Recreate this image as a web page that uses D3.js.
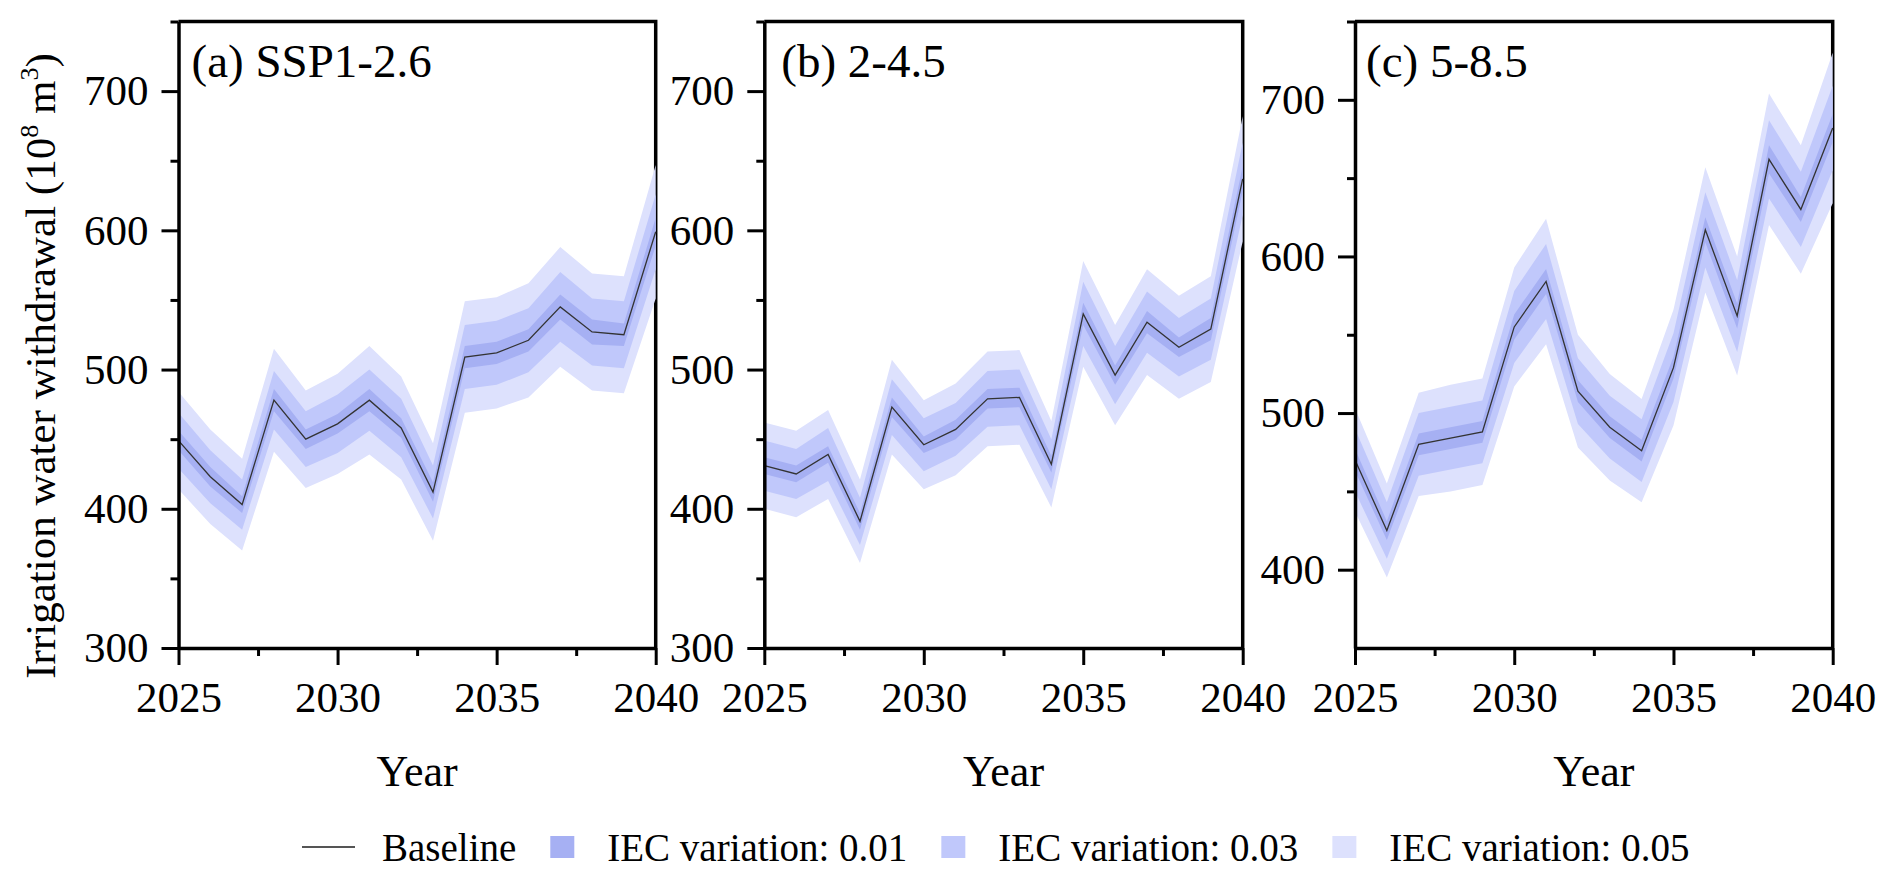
<!DOCTYPE html>
<html>
<head>
<meta charset="utf-8">
<script src="https://cdn.jsdelivr.net/npm/d3@7"></script>
<style>
  body { margin: 0; background: #fff; }
  text { font-family: "Liberation Serif", "Times New Roman", serif; fill: #000; }
</style>
</head>
<body>
<div id="chart-area"></div>
<script>
// data (10^8 m3)
var years = [2025, 2026, 2027, 2028, 2029, 2030, 2031, 2032, 2033, 2034, 2035, 2036, 2037, 2038, 2039, 2040];

var baseA = [449, 423, 403, 478, 450, 461, 478, 458, 412, 509, 512, 521, 545, 527, 525, 599];
var baseB = [431, 425, 439, 391, 473, 446, 457, 479, 480, 432, 540, 496, 534, 516, 529, 637];
var baseC = [470, 425, 480, 484, 488, 555, 584, 514, 491, 476, 529, 617, 562, 662, 630, 682];

// half widths of the IEC bands (0.01 / 0.03 / 0.05)
var spreadA01 = [7, 7, 6, 8, 7, 7, 8, 7, 7, 8, 8, 8, 9, 9, 8, 10];
var spreadA03 = [20, 19, 18, 21, 20, 21, 22, 21, 19, 23, 23, 23, 25, 24, 24, 27];
var spreadA05 = [35, 34, 33, 37, 35, 36, 39, 37, 35, 40, 40, 41, 43, 42, 42, 48];

var spreadB01 = [6, 6, 6, 6, 7, 6, 7, 7, 7, 6, 8, 7, 8, 7, 8, 9];
var spreadB03 = [18, 18, 19, 17, 20, 19, 19, 20, 20, 18, 23, 21, 22, 21, 22, 26];
var spreadB05 = [31, 31, 32, 30, 34, 32, 33, 34, 34, 31, 38, 36, 38, 37, 38, 45];

var spreadC01 = [7, 6, 7, 7, 7, 8, 8, 7, 7, 7, 7, 8, 8, 9, 8, 9];
var spreadC03 = [20, 18, 20, 20, 20, 23, 24, 21, 20, 20, 22, 24, 23, 25, 24, 27];
var spreadC05 = [33, 30, 33, 34, 34, 38, 40, 36, 34, 33, 37, 40, 38, 42, 41, 48];

var titles = ["(a) SSP1-2.6", "(b) 2-4.5", "(c) 5-8.5"];
var xTicks = [2025, 2030, 2035, 2040];
var xMinor = [2027.5, 2032.5, 2037.5];
var yTicksAB = [300, 400, 500, 600, 700];
var yMinorAB = [350, 450, 550, 650, 750];
var yTicksC = [400, 500, 600, 700];
var yMinorC = [450, 550, 650, 750];

var legendLabels = ["Baseline", "IEC variation: 0.01", "IEC variation: 0.03", "IEC variation: 0.05"];
var bandColors = ["#a6b0f3", "#c0c8fb", "#dde1fd"];

var W = 1892, H = 881;
var plotTop = 21.5, plotBottom = 648;
var serif = "'Liberation Serif', 'Times New Roman', serif";

var panels = [
  {left: 178.5, right: 655.7, domain: [300, 750], base: baseA, spreads: [spreadA01, spreadA03, spreadA05], yt: yTicksAB, ym: yMinorAB, title: titles[0], tdx: 13},
  {left: 764.3, right: 1242.7, domain: [300, 750], base: baseB, spreads: [spreadB01, spreadB03, spreadB05], yt: yTicksAB, ym: yMinorAB, title: titles[1], tdx: 17},
  {left: 1355, right: 1832.7, domain: [350, 750], base: baseC, spreads: [spreadC01, spreadC03, spreadC05], yt: yTicksC, ym: yMinorC, title: titles[2], tdx: 11}
];

var svg = d3.select("#chart-area")
  .append("svg")
    .attr("width", W)
    .attr("height", H)
    .attr("font-family", serif);

panels.forEach(function(p) {
    var x = d3.scaleLinear().domain([2025, 2040]).range([p.left, p.right]);
    var y = d3.scaleLinear().domain(p.domain).range([plotBottom, plotTop]);

    var g = svg.append("g");

    // top and right frame (bands sit on top of it)
    g.append("path")
        .attr("d", "M" + p.left + "," + plotTop + "H" + p.right + "V" + plotBottom)
        .attr("fill", "none")
        .attr("stroke", "#000")
        .attr("stroke-width", 3.5);

    // bands, widest first
    for (var k = 2; k >= 0; k--) {
        var sp = p.spreads[k];
        var area = d3.area()
            .x(function(d, i) { return x(years[i]); })
            .y0(function(d, i) { return y(d - sp[i]); })
            .y1(function(d, i) { return y(d + sp[i]); });
        g.append("path")
            .datum(p.base)
            .attr("d", area)
            .attr("fill", bandColors[k]);
    }

    var line = d3.line()
        .x(function(d, i) { return x(years[i]); })
        .y(function(d) { return y(d); });
    g.append("path")
        .datum(p.base)
        .attr("d", line)
        .attr("fill", "none")
        .attr("stroke", "#333")
        .attr("stroke-width", 1.3);

    // axes
    g.append("g")
        .attr("transform", "translate(" + p.left + ",0)")
        .call(d3.axisLeft(y).tickValues(p.yt).tickSize(17).tickPadding(13).tickSizeOuter(0))
        .attr("font-size", 43)
        .attr("font-family", serif);
    g.append("g")
        .attr("transform", "translate(" + p.left + ",0)")
        .call(d3.axisLeft(y).tickValues(p.ym).tickSize(8).tickFormat(""))
        .select(".domain").remove();

    g.append("g")
        .attr("transform", "translate(0," + plotBottom + ")")
        .call(d3.axisBottom(x).tickValues(xTicks).tickSize(17).tickPadding(16).tickSizeOuter(0).tickFormat(d3.format("d")))
        .attr("font-size", 43)
        .attr("font-family", serif);
    g.append("g")
        .attr("transform", "translate(0," + plotBottom + ")")
        .call(d3.axisBottom(x).tickValues(xMinor).tickSize(8).tickFormat(""))
        .select(".domain").remove();

    g.selectAll(".domain").attr("stroke-width", 3.5).attr("stroke", "#000");
    g.selectAll(".tick line").attr("stroke-width", 3).attr("stroke", "#000");

    g.append("text")
        .attr("x", p.left + p.tdx)
        .attr("y", 77)
        .attr("font-size", 47)
        .text(p.title);

    g.append("text")
        .attr("x", (p.left + p.right) / 2)
        .attr("y", 786)
        .attr("font-size", 44)
        .attr("text-anchor", "middle")
        .text("Year");
});

// y axis label
var yl = svg.append("text")
    .attr("transform", "rotate(-90)")
    .attr("x", -366)
    .attr("y", 55)
    .attr("font-size", 43)
    .attr("text-anchor", "middle");
yl.append("tspan").text("Irrigation water withdrawal (10");
yl.append("tspan").attr("font-size", 26).attr("dy", -17).text("8");
yl.append("tspan").attr("dy", 17).text(" m");
yl.append("tspan").attr("font-size", 26).attr("dy", -17).text("3");
yl.append("tspan").attr("dy", 17).text(")");

// legend
var lg = svg.append("g").attr("font-size", 39);
var lx = 302, ly = 847;
legendLabels.forEach(function(lab, i) {
    if (i === 0) {
        lg.append("line")
            .attr("x1", lx).attr("x2", lx + 53)
            .attr("y1", ly).attr("y2", ly)
            .attr("stroke", "#555").attr("stroke-width", 2);
        lx += 53 + 27;
    } else {
        lg.append("rect")
            .attr("x", lx).attr("y", ly - 11)
            .attr("width", 24).attr("height", 22)
            .attr("fill", bandColors[i - 1]);
        lx += 24 + 33;
    }
    var t = lg.append("text")
        .attr("x", lx)
        .attr("y", ly + 14)
        .text(lab);
    lx += t.node().getComputedTextLength() + 34;
});
</script>
</body>
</html>
